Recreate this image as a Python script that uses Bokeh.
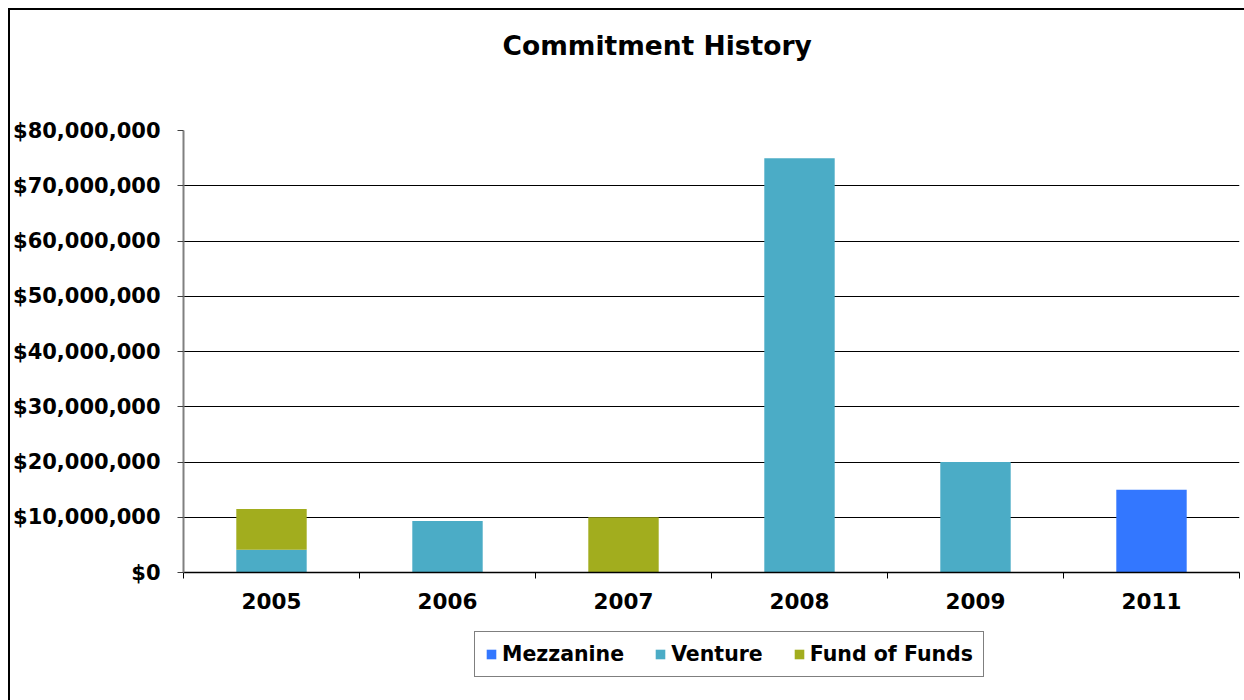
from bokeh.plotting import figure
from bokeh.layouts import column
from bokeh.models import (Range1d, FixedTicker, NumeralTickFormatter, Legend,
                          LegendItem, ColumnDataSource, Title)
from bokeh.embed import file_html
from bokeh.resources import INLINE

years = ["2005", "2006", "2007", "2008", "2009", "2011"]
series = ["Mezzanine", "Venture", "Fund of Funds"]
mezzanine = [0, 0, 0, 0, 0, 15000000]
venture = [4100000, 9300000, 0, 75000000, 20000000, 0]
fund_of_funds = [7400000, 0, 10000000, 0, 0, 0]
colors = ["#3377FF", "#4BACC6", "#A2AD1E"]
y_ticks = [0, 10000000, 20000000, 30000000, 40000000, 50000000, 60000000, 70000000, 80000000]
chart_title = "Commitment History"

FONT = "DejaVu Sans"

x = [i + 0.5 for i in range(len(years))]
source = ColumnDataSource(data={"x": x, "Mezzanine": mezzanine,
                                "Venture": venture, "Fund of Funds": fund_of_funds})

p = figure(width=1234, height=617, output_backend="svg", toolbar_location=None,
           title=None,
           x_range=Range1d(0, len(years)), y_range=Range1d(0, 80000000),
           min_border_left=172, min_border_right=5, min_border_top=120,
           min_border_bottom=55)
p.outline_line_color = None

p.vbar_stack(series, x="x", width=0.4, source=source, color=colors, line_color=None)

# spacer between frame and title, then the title itself
p.add_layout(Title(text=" ", text_font=FONT, text_font_size="58px", standoff=0), "above")
p.add_layout(Title(text=chart_title, text_font=FONT, text_font_style="bold",
                   text_font_size="26.5px", text_color="black", align="left",
                   offset=501 - 182, standoff=0), "above")

# y axis
p.yaxis.ticker = FixedTicker(ticks=y_ticks, minor_ticks=[])
p.yaxis.formatter = NumeralTickFormatter(format="$0,0")
p.yaxis.axis_line_color = "#808080"
p.yaxis.axis_line_width = 2
p.yaxis.major_tick_out = 6
p.yaxis.major_tick_in = 0
p.yaxis.major_tick_line_color = "#404040"
p.yaxis.major_label_text_font = FONT
p.yaxis.major_label_text_font_style = "bold"
p.yaxis.major_label_text_font_size = "21px"
p.yaxis.major_label_text_color = "black"
p.yaxis.major_label_standoff = 17

# x axis
p.xaxis.ticker = FixedTicker(ticks=x, minor_ticks=list(range(len(years) + 1)))
p.xaxis.major_label_overrides = {xv: yr for xv, yr in zip(x, years)}
p.xaxis.major_tick_line_color = None
p.xaxis.minor_tick_out = 6
p.xaxis.minor_tick_in = 0
p.xaxis.minor_tick_line_color = "black"
p.xaxis.axis_line_color = "black"
p.xaxis.axis_line_width = 1.5
p.xaxis.major_label_text_font = FONT
p.xaxis.major_label_text_font_style = "bold"
p.xaxis.major_label_text_font_size = "21.5px"
p.xaxis.major_label_text_color = "black"
p.xaxis.major_label_standoff = 14

# grid
p.xgrid.visible = False
p.ygrid.ticker = FixedTicker(ticks=y_ticks[1:-1])
p.ygrid.grid_line_color = "black"
p.ygrid.grid_line_width = 1

# legend strip below the chart (zero-height placeholder bars carry the legend swatches)
lp = figure(width=1234, height=73, output_backend="svg", toolbar_location=None,
            x_axis_type=None, y_axis_type=None, x_range=Range1d(0, 1),
            y_range=Range1d(0, 1), min_border=0)
lp.outline_line_color = None
lp.grid.visible = False
placeholder = ColumnDataSource(data={"x": [x[0]], "top": [0]})
legend_renderers = [lp.vbar(x="x", top="top", width=0.4, source=placeholder,
                            color=c, line_color=None) for c in colors]
legend = Legend(items=[LegendItem(label=s, renderers=[r])
                       for s, r in zip(series, legend_renderers)],
                orientation="horizontal", location=(291, 23),
                border_line_color="black", border_line_width=1,
                label_text_font=FONT, label_text_font_style="bold",
                label_text_font_size="20.5px", label_text_color="black",
                glyph_width=12, glyph_height=12, label_standoff=5, spacing=30,
                padding=10, margin=0)
lp.add_layout(legend)

layout = column(p, lp, spacing=0,
                styles={"border-left": "2px solid black", "border-top": "2px solid black",
                        "margin-left": "8px", "margin-top": "8px"})

open("out.html", "w").write(file_html(layout, INLINE))
